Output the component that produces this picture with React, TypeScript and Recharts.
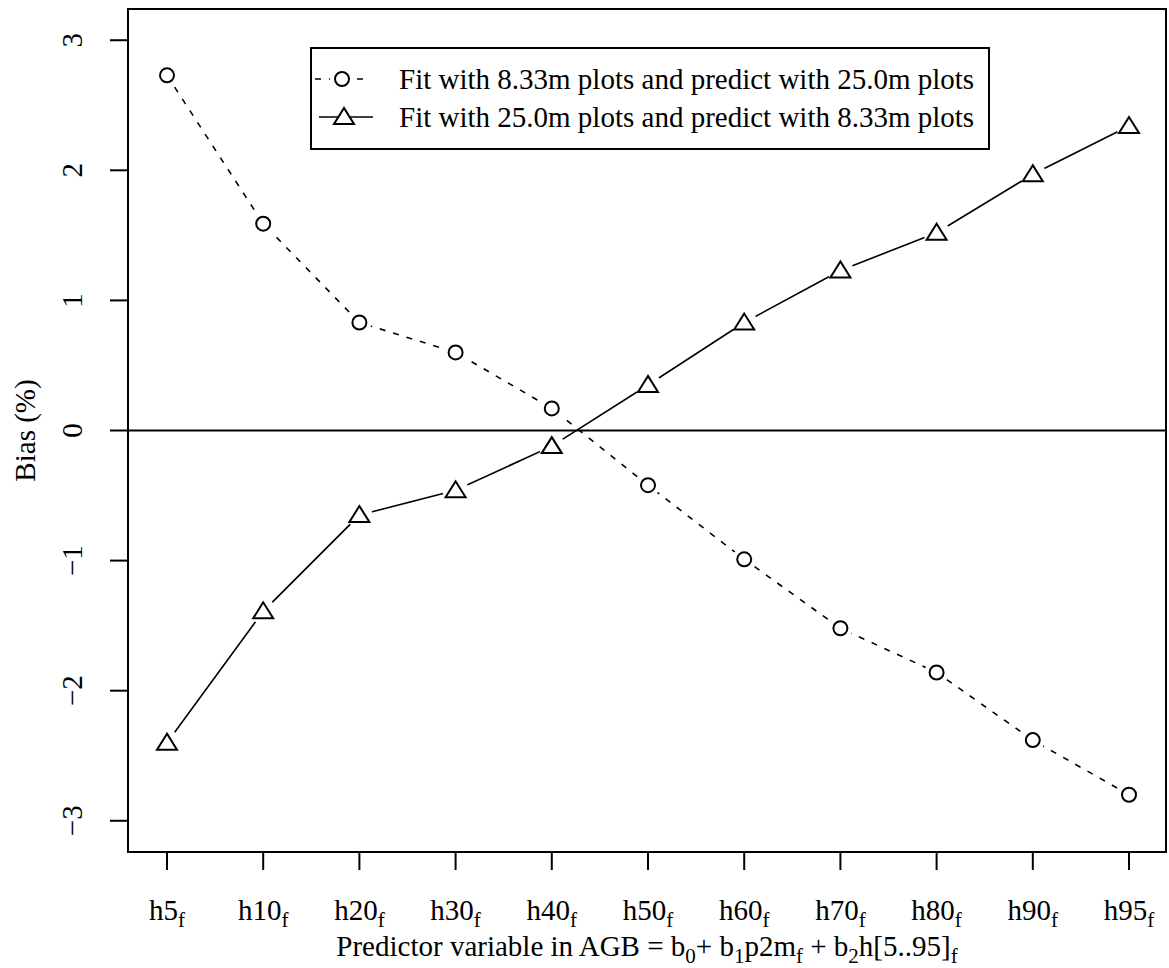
import React from 'react';
import { LineChart, Line, XAxis, YAxis, ReferenceLine, ReferenceArea } from 'recharts';

const categories = ['h5', 'h10', 'h20', 'h30', 'h40', 'h50', 'h60', 'h70', 'h80', 'h90', 'h95'];
const fit833Predict25 = [2.73, 1.59, 0.83, 0.6, 0.17, -0.42, -0.99, -1.52, -1.86, -2.38, -2.8];
const fit25Predict833 = [-2.4, -1.39, -0.65, -0.46, -0.12, 0.35, 0.83, 1.23, 1.52, 1.97, 2.34];
const yTicks = [-3, -2, -1, 0, 1, 2, 3];
const legendLabels = [
  'Fit with 8.33m plots and predict with 25.0m plots',
  'Fit with 25.0m plots and predict with 8.33m plots',
];

const data = categories.map((c, i) => ({
  cat: c,
  a: fit833Predict25[i],
  b: fit25Predict833[i],
}));

const LAST = categories.length - 1;
const FONT = '"Liberation Serif", "Times New Roman", serif';
const FS = 29;

const CircleMark = ({ cx, cy, halo }: any) => (
  <g>
    {halo ? <circle cx={cx} cy={cy} r={12} fill="#fff" stroke="none" /> : null}
    <circle cx={cx} cy={cy} r={7} fill="#fff" stroke="#000" strokeWidth={2} />
  </g>
);

const TriMark = ({ cx, cy, halo }: any) => {
  const r = 10;
  const pts = `${cx},${cy - 9} ${cx - r},${cy + 7} ${cx + r},${cy + 7}`;
  return (
    <g>
      {halo ? <circle cx={cx} cy={cy} r={13} fill="#fff" stroke="none" /> : null}
      <polygon points={pts} fill="#fff" stroke="#000" strokeWidth={2} strokeLinejoin="miter" />
    </g>
  );
};

const CircleDot = (props: any) => {
  const { cx, cy } = props;
  if (cx == null || cy == null) return null;
  return <CircleMark cx={cx} cy={cy} halo />;
};

const TriDot = (props: any) => {
  const { cx, cy } = props;
  if (cx == null || cy == null) return null;
  return <TriMark cx={cx} cy={cy} halo />;
};

const XTick = (props: any) => {
  const { x, y, payload } = props;
  return (
    <text x={x} y={y + 50} textAnchor="middle" fontFamily={FONT} fontSize={FS} fill="#000">
      {payload.value}
      <tspan dy={7} fontSize={21}>f</tspan>
    </text>
  );
};

const YTick = (props: any) => {
  const { x, y, payload } = props;
  const v = payload.value as number;
  const label = v < 0 ? '\u2212' + Math.abs(v) : String(v);
  return (
    <text x={x} y={y} transform={`rotate(-90 ${x} ${y})`} textAnchor="middle" fontFamily={FONT} fontSize={FS} fill="#000">
      {label}
    </text>
  );
};

const XLabel = (props: any) => {
  const vb = props.viewBox || {};
  const cx = vb.x + vb.width / 2;
  const y = vb.y + 104;
  const sub = 7;
  const sfs = 21;
  return (
    <text x={cx} y={y} textAnchor="middle" fontFamily={FONT} fontSize={FS} fill="#000">
      Predictor variable in AGB = b
      <tspan dy={sub} fontSize={sfs}>0</tspan>
      <tspan dy={-sub}>+ b</tspan>
      <tspan dy={sub} fontSize={sfs}>1</tspan>
      <tspan dy={-sub}>p2m</tspan>
      <tspan dy={sub} fontSize={sfs}>f</tspan>
      <tspan dy={-sub}> + b</tspan>
      <tspan dy={sub} fontSize={sfs}>2</tspan>
      <tspan dy={-sub}>h[5..95]</tspan>
      <tspan dy={sub} fontSize={sfs}>f</tspan>
    </text>
  );
};

const YLabel = (props: any) => {
  const vb = props.viewBox || {};
  const cy = vb.y + vb.height / 2;
  const x = 35;
  return (
    <text x={x} y={cy} transform={`rotate(-90 ${x} ${cy})`} textAnchor="middle" fontFamily={FONT} fontSize={FS} fill="#000">
      Bias (%)
    </text>
  );
};

const LegendBox = () => (
  <div
    style={{
      position: 'absolute',
      left: 310,
      top: 47,
      width: 680,
      height: 103,
      boxSizing: 'border-box',
      border: '2px solid #000',
      background: '#fff',
    }}
  >
    <svg width={676} height={99} style={{ position: 'absolute', left: 0, top: 0 }}>
      <line x1={3} x2={57} y1={30} y2={30} stroke="#000" strokeWidth={1.5} strokeDasharray="6 8" />
      <CircleMark cx={30} cy={30} halo />
      <line x1={7} x2={61} y1={68} y2={68} stroke="#000" strokeWidth={1.5} />
      <TriMark cx={32} cy={68} />
      <text x={87} y={40} fontFamily={FONT} fontSize={FS} fill="#000">{legendLabels[0]}</text>
      <text x={87} y={78} fontFamily={FONT} fontSize={FS} fill="#000">{legendLabels[1]}</text>
    </svg>
  </div>
);

export default function App() {
  return (
    <div style={{ position: 'absolute', left: 0, top: 0, width: 1169, height: 968, background: '#fff' }}>
      <LineChart width={1169} height={968} data={data} margin={{ top: 9, right: 3, bottom: 0, left: 0 }}>
        <XAxis
          dataKey="cat"
          type="category"
          padding={{ left: 39, right: 37 }}
          height={116}
          tick={<XTick />}
          tickSize={18}
          tickMargin={0}
          interval={0}
          axisLine={{ stroke: '#000', strokeWidth: 2 }}
          tickLine={{ stroke: '#000', strokeWidth: 2 }}
          label={<XLabel />}
        />
        <XAxis xAxisId="box" type="number" domain={[0, LAST]} allowDataOverflow hide />
        <YAxis
          type="number"
          domain={[-3.24, 3.24]}
          ticks={yTicks}
          allowDataOverflow
          width={128}
          tick={<YTick />}
          tickSize={18}
          tickMargin={28}
          axisLine={{ stroke: '#000', strokeWidth: 2 }}
          tickLine={{ stroke: '#000', strokeWidth: 2 }}
          label={<YLabel />}
        />
        <ReferenceArea
          xAxisId="box"
          x1={0}
          x2={LAST}
          y1={-3.24}
          y2={3.24}
          fill="none"
          fillOpacity={0}
          stroke="#000"
          strokeWidth={2}
          ifOverflow="visible"
        />
        <ReferenceLine y={0} stroke="#000" strokeWidth={2} />
        <Line
          dataKey="a"
          stroke="#000"
          strokeWidth={1.6}
          strokeDasharray="6 8"
          dot={<CircleDot />}
          activeDot={false}
          isAnimationActive={false}
        />
        <Line
          dataKey="b"
          stroke="#000"
          strokeWidth={1.6}
          dot={<TriDot />}
          activeDot={false}
          isAnimationActive={false}
        />
      </LineChart>
      <LegendBox />
    </div>
  );
}
